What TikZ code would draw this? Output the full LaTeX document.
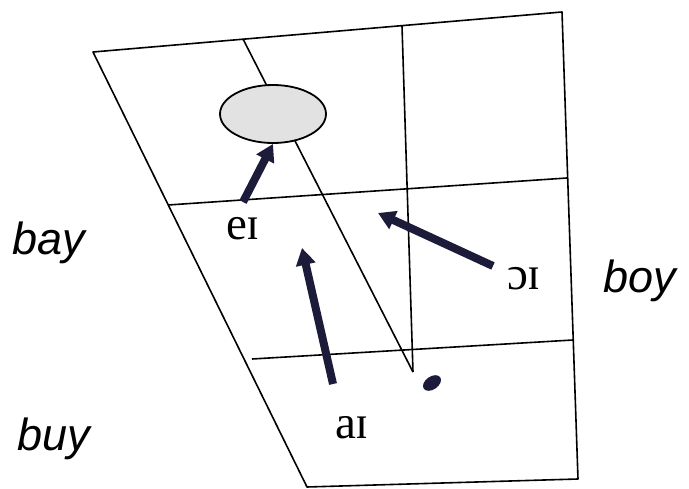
\documentclass[tikz,border=0pt]{standalone}
\usepackage{fontspec}
\usepackage{tikz}
\usetikzlibrary{arrows.meta,shapes.geometric}
\newfontfamily\wordfont{Liberation Sans}
\newfontfamily\ipafont{Liberation Serif}
\definecolor{GLnavy}{RGB}{28,28,58}
\definecolor{GLgrey}{RGB}{226,226,226}

\begin{document}
\begin{tikzpicture}[
      x=1pt,y=-1pt,
      grid/.style={line width=1.6pt,line join=round},
      word/.style={font=\wordfont\itshape\fontsize{45}{50}\selectfont,anchor=base west,inner sep=0pt},
      ipa/.style={font=\ipafont\fontsize{47}{50}\selectfont,inner sep=0pt},
      glide/.style={line width=8pt,GLnavy,-{Triangle[length=17pt,width=19pt]}}
    ]
    \useasboundingbox (0,0) rectangle (689,489);
    % vowel space
    \draw[grid] (93,52)--(562,12)--(578,479)--(307,487)--cycle;
    \draw[grid] (168,205)--(567,178);
    \draw[grid] (252,359)--(573,340);
    \draw[grid] (402,26)--(413,372);
    \draw[grid] (243,39)--(413,372);
    \node[draw,line width=1.8pt,ellipse,fill=GLgrey,minimum width=106pt,minimum height=58pt,inner sep=0pt] (target) at (273,114) {};
    \node[ellipse,fill=GLnavy,minimum width=20pt,minimum height=13pt,inner sep=0pt,rotate=35] (dot) at (432,383) {};
    % labels
    \node[ipa] (ei) at (243,229) {eɪ};
    \node[ipa] (oi) at (524,279) {ɔɪ};
    \node[ipa] (ai) at (352,428) {aɪ};
    \node[word] (bay) at (12,255) {bay};
    \node[word] (buy) at (17,450) {buy};
    \node[word] (boy) at (603,293) {boy};
    % glides
    \coordinate (eiTail) at (243,202);
    \coordinate (aiTail) at (333,384);
    \coordinate (aiHead) at (302,248);
    \coordinate (oiTail) at (493,266);
    \coordinate (oiHead) at (378,213);
    \draw[glide] (eiTail)--(target.south);
    \draw[glide] (aiTail)--(aiHead);
    \draw[glide] (oiTail)--(oiHead);
  \end{tikzpicture}
\end{document}
